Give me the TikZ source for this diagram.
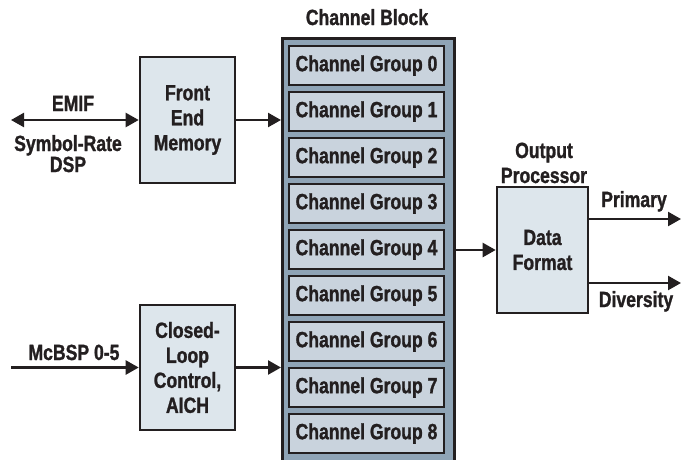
\documentclass[tikz,border=0pt]{standalone}
\usepackage{fontspec}
\setmainfont[FakeStretch=0.80, BoldFeatures={FakeBold=1.2}]{Liberation Sans}
\usetikzlibrary{arrows.meta}
\definecolor{ink}{HTML}{231F20}
\definecolor{boxfill}{HTML}{DDE6EC}
\definecolor{blockfill}{HTML}{8FA4B6}
\definecolor{groupfill}{HTML}{C9D3DD}
\tikzset{
  txt/.style={font=\fontsize{22}{25}\selectfont\bfseries, text=ink},
  lbl/.style={txt, inner sep=0pt},
  procbox/.style={txt, draw=ink, line width=2.6pt, fill=boxfill, inner sep=0pt, align=center},
  groupbox/.style={txt, draw=ink, line width=2.6pt, fill=groupfill, inner sep=0pt, minimum width=155pt, minimum height=39pt},
  conn/.style={draw=ink, line width=2.4pt, -{Triangle[length=13pt,width=14pt]}},
  dconn/.style={draw=ink, line width=2.4pt, {Triangle[length=13pt,width=14pt]}-{Triangle[length=13pt,width=14pt]}}
}
\begin{document}
\begin{tikzpicture}[x=1pt,y=-1pt]
\useasboundingbox (0,0) rectangle (691,459);
% channel block
\node[draw=ink, line width=2.6pt, fill=blockfill, minimum width=172pt, minimum height=440pt, inner sep=0pt, anchor=north west] (cb) at (281,37) {};
\node[lbl, anchor=base] (cbt) at (367,25) {Channel Block};
\foreach \i in {0,...,8} {
  \node[groupbox] (g\i) at (366.5,{65.5+46*\i}) {Channel Group \i};
}
% front end memory
\node[procbox, minimum width=95pt, minimum height=126pt] (fem) at (187.5,120) {Front\\End\\Memory};
% closed loop
\node[procbox, minimum width=95pt, minimum height=125pt] (clc) at (187.5,367.5) {Closed-\\Loop\\Control,\\AICH};
% data format
\node[procbox, minimum width=91pt, minimum height=126pt] (df) at (542.5,250) {Data\\Format};
% labels
\node[lbl, anchor=base] (emif) at (73,111) {EMIF};
\node[lbl, anchor=base] (srd) at (68,151) {Symbol-Rate};
\node[lbl, anchor=base] (dsp) at (68,172) {DSP};
\node[lbl, anchor=base] (mcb) at (74,360) {McBSP 0-5};
\node[lbl, anchor=base] (op1) at (544,158) {Output};
\node[lbl, anchor=base] (op2) at (544,183) {Processor};
\node[lbl, anchor=base] (pri) at (634,207) {Primary};
\node[lbl, anchor=base] (div) at (636,307) {Diversity};
% coordinates for free ends
\coordinate (emifL) at (11,120);
\coordinate (mcbL) at (11,367.5);
\coordinate (priR) at (681,219);
\coordinate (divR) at (681,283);
% connectors
\draw[dconn] (emifL) -- (fem.west);
\draw[conn] (mcbL) -- (clc.west);
\draw[conn] (fem.east) -- (fem.east -| cb.west);
\draw[conn] (clc.east) -- (clc.east -| cb.west);
\draw[conn] (df.west -| cb.east) -- (df.west);
\draw[conn] (df.east |- priR) -- (priR);
\draw[conn] (df.east |- divR) -- (divR);
\end{tikzpicture}
\end{document}
